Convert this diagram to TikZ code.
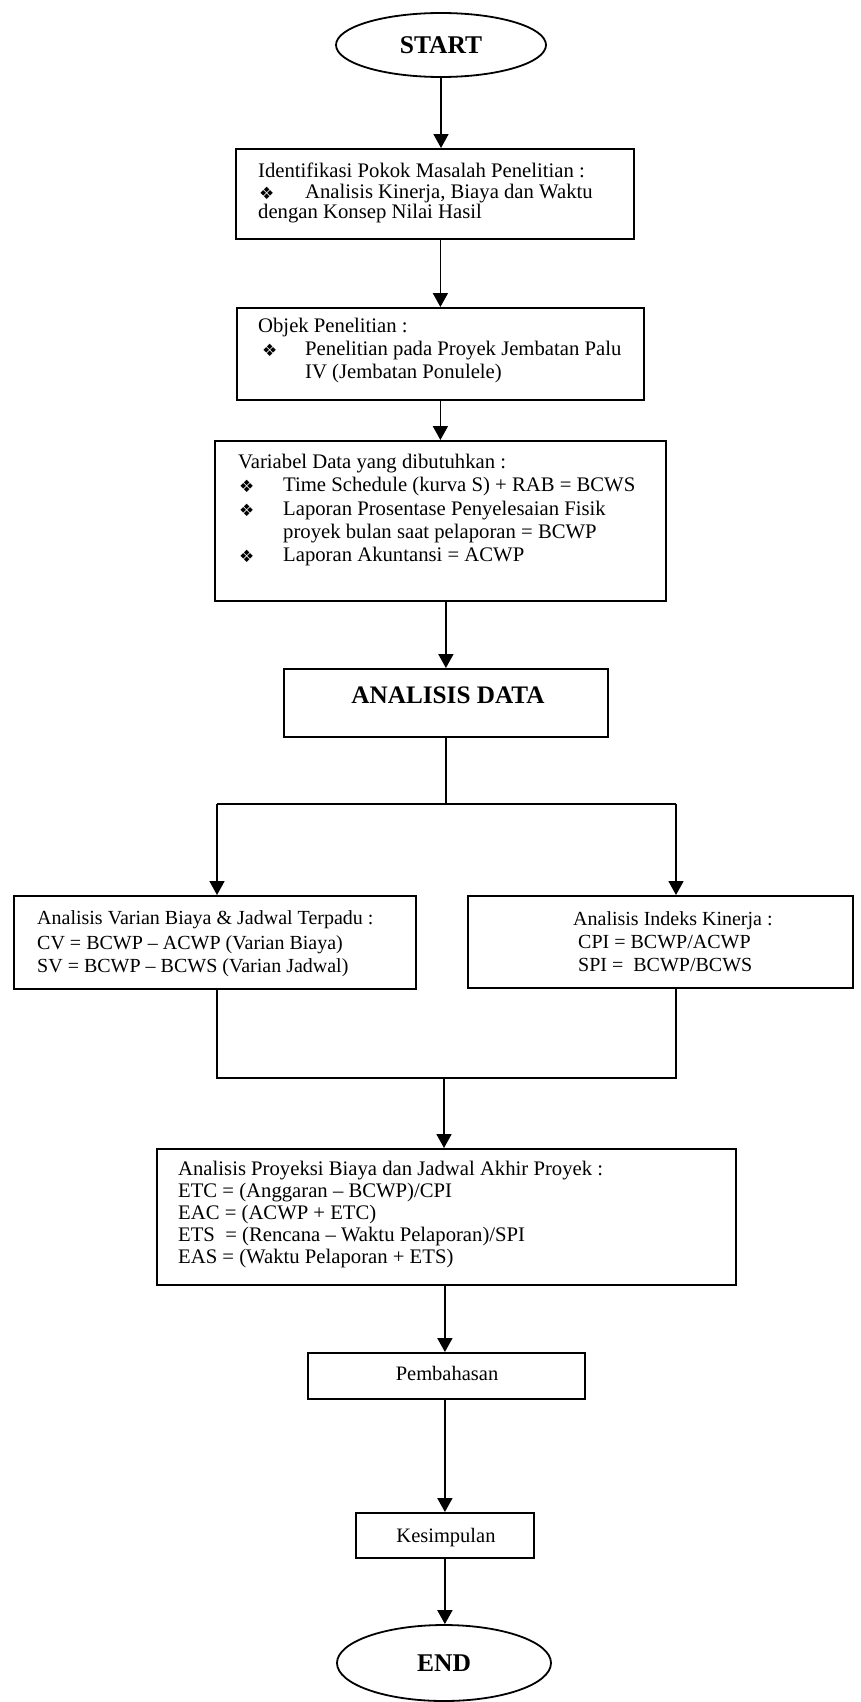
\documentclass[tikz,border=0pt]{standalone}
\usepackage{fontspec}
\setmainfont{Liberation Serif}
\newfontfamily\bulfont{DejaVu Sans}
\usetikzlibrary{arrows.meta,shapes.geometric}
\newcommand{\bul}{\raisebox{-1pt}{\bulfont\fontsize{17}{17}\selectfont ❖}}
\begin{document}
\begin{tikzpicture}[x=1pt,y=-1pt,
  ln/.style={line width=1.8pt},
  arr/.style={line width=1.8pt,-{Triangle[length=14pt,width=15pt]}},
  frame/.style={draw,line width=1.8pt,anchor=north west,inner sep=0pt},
  oval/.style={draw,line width=1.8pt,ellipse,inner sep=0pt,font=\fontsize{25.5}{28}\selectfont\bfseries},
  txt/.style={anchor=base west,inner sep=0pt,font=\fontsize{20.7}{23}\selectfont},
  txtc/.style={anchor=base,inner sep=0pt,font=\fontsize{20.5}{23}\selectfont},
  txts/.style={anchor=base west,inner sep=0pt,font=\fontsize{20}{23}\selectfont},
  bold/.style={anchor=base,inner sep=0pt,font=\fontsize{25.2}{28}\selectfont\bfseries}]
\useasboundingbox (0,0) rectangle (860,1702);
\fill[white] (0,0) rectangle (860,1702);

% START
\node[oval,minimum width=210pt,minimum height=64pt] (start) at (441,45) {START};

% Box 1
\node[frame,minimum width=398pt,minimum height=90pt] (b1) at (235,148) {};
\node[txt] (b1a) at (258,177) {Identifikasi Pokok Masalah Penelitian :};
\node[txt] (b1b) at (258,198) {\hspace*{1pt}\makebox[46pt][l]{\bul}Analisis Kinerja, Biaya dan Waktu};
\node[txt] (b1c) at (258,218) {dengan Konsep Nilai Hasil};

% Box 2
\node[frame,minimum width=407pt,minimum height=92pt] (b2) at (236,307) {};
\node[txt] (b2a) at (258,332) {Objek Penelitian :};
\node[txt] (b2b) at (258,355) {\hspace*{4pt}\makebox[43pt][l]{\bul}Penelitian pada Proyek Jembatan Palu};
\node[txt] (b2c) at (258,378) {\hspace*{47pt}IV (Jembatan Ponulele)};

% Box 3
\node[frame,minimum width=451pt,minimum height=160pt] (b3) at (214,440) {};
\node[txt] (b3a) at (238,468) {Variabel Data yang dibutuhkan :};
\node[txt] (b3b) at (238,491) {\hspace*{1pt}\makebox[44pt][l]{\bul}Time Schedule (kurva S) + RAB = BCWS};
\node[txt] (b3c) at (238,515) {\hspace*{1pt}\makebox[44pt][l]{\bul}Laporan Prosentase Penyelesaian Fisik};
\node[txt] (b3d) at (238,538) {\hspace*{45pt}proyek bulan saat pelaporan = BCWP};
\node[txt] (b3e) at (238,561) {\hspace*{1pt}\makebox[44pt][l]{\bul}Laporan Akuntansi = ACWP};

% Analisis data
\node[frame,minimum width=324pt,minimum height=68pt] (ad) at (283,668) {};
\node[bold] (adt) at (448,703) {ANALISIS DATA};

% Left box
\node[frame,minimum width=402pt,minimum height=93pt] (lb) at (13,895) {};
\node[txts] (lba) at (37,924) {Analisis Varian Biaya \& Jadwal Terpadu :};
\node[txts] (lbb) at (37,949) {CV = BCWP – ACWP (Varian Biaya)};
\node[txts] (lbc) at (37,972) {SV = BCWP – BCWS (Varian Jadwal)};

% Right box
\node[frame,minimum width=385pt,minimum height=92pt] (rb) at (467,895) {};
\node[txts] (rba) at (573,925) {Analisis Indeks Kinerja :};
\node[txts] (rbb) at (578,948) {CPI = BCWP/ACWP};
\node[txts] (rbc) at (578,971) {SPI = \ BCWP/BCWS};

% Projection box
\node[frame,minimum width=579pt,minimum height=136pt] (pj) at (156,1148) {};
\node[txt] (pja) at (178,1175) {Analisis Proyeksi Biaya dan Jadwal Akhir Proyek :};
\node[txt] (pjb) at (178,1197) {ETC = (Anggaran – BCWP)/CPI};
\node[txt] (pjc) at (178,1219) {EAC = (ACWP + ETC)};
\node[txt] (pjd) at (178,1241) {ETS \ = (Rencana – Waktu Pelaporan)/SPI};
\node[txt] (pje) at (178,1263) {EAS = (Waktu Pelaporan + ETS)};

% Pembahasan
\node[frame,minimum width=277pt,minimum height=46pt] (pb) at (307,1352) {};
\node[txtc] (pbt) at (447,1380) {Pembahasan};

% Kesimpulan
\node[frame,minimum width=178pt,minimum height=45pt] (ks) at (355,1512) {};
\node[txtc] (kst) at (446,1542) {Kesimpulan};

% END
\node[oval,minimum width=214pt,minimum height=76pt] (end) at (444,1663) {END};

% coordinates
\coordinate (brc) at (445,804);
\coordinate (brl) at (217,804);
\coordinate (brr) at (676,804);
\coordinate (ml) at (217,1078);
\coordinate (mr) at (676,1078);
\coordinate (mm) at (444,1078);

% connectors
\draw[arr] (start.south) -- (start.south |- b1.north);
\draw[arr] (b1.south -| b2.north) -- (b2.north);
\draw[arr] (b2.south) -- (b2.south |- b3.north);
\draw[arr] (b3.south -| ad.north) -- (ad.north);
\draw[ln] (ad.south) -- (ad.south |- brc);
\draw[ln] (brl) -- (brr);
\draw[arr] (brl) -- (brl |- lb.north);
\draw[arr] (brr) -- (brr |- rb.north);
\draw[ln] (ml |- lb.south) -- (ml) -- (mr) -- (mr |- rb.south);
\draw[arr] (mm) -- (mm |- pj.north);
\draw[arr] (pj.south -| ks.north) -- (pb.north -| ks.north);
\draw[arr] (pb.south -| ks.north) -- (ks.north);
\draw[arr] (ks.south) -- (ks.south |- end.north);
\end{tikzpicture}
\end{document}
